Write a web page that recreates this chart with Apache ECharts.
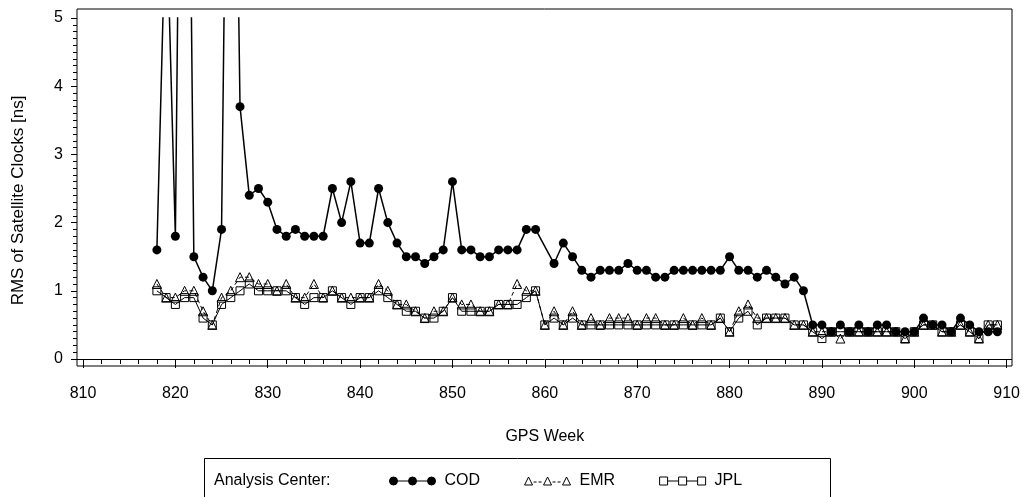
<!DOCTYPE html>
<html><head><meta charset="utf-8">
<script src="https://cdn.jsdelivr.net/npm/echarts@6/dist/echarts.min.js"></script>
<style>html,body{margin:0;padding:0;background:#fff}#c{width:1023px;height:497px}</style>
</head><body><div id="c"></div>
<script>
// ---- data ----
const weeks = [818,819,820,821,822,823,824,825,826,827,828,829,830,831,832,833,834,835,836,837,
  838,839,840,841,842,843,844,845,846,847,848,849,850,851,852,853,854,855,856,857,
  858,859,860,861,862,863,864,865,866,867,868,869,870,871,872,873,874,875,876,877,
  878,879,880,881,882,883,884,885,886,887,888,889,890,891,892,893,894,895,896,897,
  898,899,900,901,902,903,904,905,906,907,908,909];
const cod = [1.6,6.8,1.8,15,1.5,1.2,1.0,1.9,13.5,3.7,2.4,2.5,2.3,1.9,1.8,1.9,1.8,1.8,1.8,2.5,
  2.0,2.6,1.7,1.7,2.5,2.0,1.7,1.5,1.5,1.4,1.5,1.6,2.6,1.6,1.6,1.5,1.5,1.6,1.6,1.6,
  1.9,1.9,null,1.4,1.7,1.5,1.3,1.2,1.3,1.3,1.3,1.4,1.3,1.3,1.2,1.2,1.3,1.3,1.3,1.3,
  1.3,1.3,1.5,1.3,1.3,1.2,1.3,1.2,1.1,1.2,1.0,0.5,0.5,0.4,0.5,0.4,0.5,0.4,0.5,0.5,
  0.4,0.4,0.4,0.6,0.5,0.5,0.4,0.6,0.5,0.4,0.4,0.4];
const emr = [1.1,0.9,0.9,1.0,1.0,0.7,0.5,0.9,1.0,1.2,1.2,1.1,1.1,1.0,1.1,0.9,0.9,1.1,0.9,1.0,
  0.9,0.9,0.9,0.9,1.1,1.0,0.8,0.8,0.7,0.6,0.7,0.7,0.9,0.8,0.8,0.7,0.7,0.8,0.8,1.1,
  1.0,1.0,0.5,0.7,0.5,0.7,0.5,0.6,0.5,0.6,0.6,0.6,0.5,0.6,0.6,0.5,0.5,0.6,0.5,0.6,
  0.5,0.6,0.4,0.7,0.8,0.6,0.6,0.6,0.6,0.5,0.5,0.4,0.4,0.4,0.3,0.4,0.4,0.4,0.4,0.4,
  0.4,0.3,0.4,0.5,0.5,0.4,0.4,0.5,0.4,0.3,0.5,0.5];
const jpl = [1.0,0.9,0.8,0.9,0.9,0.6,0.5,0.8,0.9,1.0,1.1,1.0,1.0,1.0,1.0,0.9,0.8,0.9,0.9,1.0,
  0.9,0.8,0.9,0.9,1.0,0.9,0.8,0.7,0.7,0.6,0.6,0.7,0.9,0.7,0.7,0.7,0.7,0.8,0.8,0.8,
  0.9,1.0,0.5,0.6,0.5,0.6,0.5,0.5,0.5,0.5,0.5,0.5,0.5,0.5,0.5,0.5,0.5,0.5,0.5,0.5,
  0.5,0.6,0.4,0.6,0.7,0.5,0.6,0.6,0.6,0.5,0.5,0.4,0.3,0.4,0.4,0.4,0.4,0.4,0.4,0.4,
  0.4,0.3,0.4,0.5,0.5,0.4,0.4,0.5,0.4,0.3,0.5,0.5];
const seriesNames = ['COD', 'EMR', 'JPL'];
const xTitle = 'GPS Week';
const yTitle = 'RMS of Satellite Clocks [ns]';
const legendTitle = 'Analysis Center:';

// ---- chart ----
const FONT = "'Liberation Sans', Arial, Helvetica, sans-serif";
const pair = arr => weeks.map((w, i) => [w, arr[i]]);
const chart = echarts.init(document.getElementById('c'), null, {renderer: 'canvas'});
const hollow = {color: 'rgba(0,0,0,0)', borderColor: '#000', borderWidth: 1};
const pad = ' M50,4 L50,4';
const codIcon = 'path://M0,4 a4,4 0 1,0 8,0 a4,4 0 1,0 -8,0 M19,4 a4,4 0 1,0 8,0 a4,4 0 1,0 -8,0 M38,4 a4,4 0 1,0 8,0 a4,4 0 1,0 -8,0 M8,4 L19,4 M27,4 L38,4' + pad;
const emrIcon = 'path://M0,8 L4,0 L8,8 Z M19,8 L23,0 L27,8 Z M38,8 L42,0 L46,8 Z M9,5 L12,5 M14,5 L17,5 M28,5 L31,5 M33,5 L36,5' + pad;
const jplIcon = 'path://M0,0 L8,0 L8,8 L0,8 Z M19,0 L27,0 L27,8 L19,8 Z M38,0 L46,0 L46,8 L38,8 Z M8,4 L19,4 M27,4 L38,4' + pad;

chart.setOption({
  animation: false,
  backgroundColor: '#fff',
  textStyle: {fontFamily: FONT, color: '#000'},
  grid: [
    {left: 83, right: 14, top: 18, bottom: 138},
    {left: 77, right: 11, top: 9, bottom: 131, show: true, borderColor: '#000', borderWidth: 1, backgroundColor: 'rgba(0,0,0,0)'}
  ],
  xAxis: [
    {type: 'value', gridIndex: 0, min: 810, max: 910, interval: 10, offset: 7,
     axisLine: {show: false},
     axisTick: {show: true, length: 9, lineStyle: {color: '#000'}},
     minorTick: {show: true, splitNumber: 5, length: 5, lineStyle: {color: '#000'}},
     splitLine: {show: false},
     axisLabel: {margin: 20, fontSize: 16, color: '#000', fontFamily: FONT},
     name: xTitle, nameLocation: 'middle', nameGap: 63,
     nameTextStyle: {fontSize: 16, color: '#000', fontFamily: FONT}},
    {type: 'value', gridIndex: 1, min: 809.352, max: 910.324, show: false}
  ],
  yAxis: [
    {type: 'value', gridIndex: 0, min: 0, max: 5, interval: 1, offset: 6,
     axisLine: {show: false},
     axisTick: {show: true, length: 6, lineStyle: {color: '#000'}},
     minorTick: {show: true, splitNumber: 10, length: 4, lineStyle: {color: '#000'}},
     splitLine: {show: false},
     axisLabel: {margin: 14, fontSize: 16, color: '#000', fontFamily: FONT},
     name: yTitle, nameLocation: 'middle', nameGap: 50,
     nameTextStyle: {fontSize: 17, color: '#000', fontFamily: FONT, padding: [0, 24, 0, 0]}},
    {type: 'value', gridIndex: 1, min: -0.1026, max: 5.132, show: false}
  ],
  legend: {
    left: 389, top: 473, padding: 0, itemGap: 44, itemWidth: 50, itemHeight: 8,
    textStyle: {fontSize: 16, color: '#000', fontFamily: FONT},
    data: [
      {name: seriesNames[0], icon: codIcon, itemStyle: {color: '#000', borderColor: '#000', borderWidth: 1}},
      {name: seriesNames[1], icon: emrIcon, itemStyle: hollow},
      {name: seriesNames[2], icon: jplIcon, itemStyle: hollow}
    ]
  },
  graphic: [
    {type: 'rect', shape: {x: 204.5, y: 458.5, width: 626, height: 60},
     style: {fill: 'none', stroke: '#000', lineWidth: 1}, silent: true},
    {type: 'text', x: 214, y: 481, silent: true,
     style: {text: legendTitle, fontSize: 16, fontFamily: FONT, fill: '#000', verticalAlign: 'middle'}}
  ],
  series: [
    {type: 'line', xAxisIndex: 1, yAxisIndex: 1, data: [], silent: true,
     markLine: {silent: true, symbol: 'none', label: {show: false},
       lineStyle: {color: '#000', width: 1, type: 'solid'}, data: [{yAxis: 0}]}},
    {name: seriesNames[2], type: 'line', xAxisIndex: 0, yAxisIndex: 0, data: pair(jpl),
     symbol: 'rect', symbolSize: 8, itemStyle: hollow,
     lineStyle: {color: '#000', width: 1, type: 'solid'}, z: 2},
    {name: seriesNames[1], type: 'line', xAxisIndex: 0, yAxisIndex: 0, data: pair(emr),
     symbol: 'triangle', symbolSize: 9, itemStyle: hollow,
     lineStyle: {color: '#000', width: 1, type: [4, 3]}, z: 3},
    {name: seriesNames[0], type: 'line', xAxisIndex: 0, yAxisIndex: 0, data: pair(cod),
     symbol: 'circle', symbolSize: 9, connectNulls: true, clip: true,
     itemStyle: {color: '#000'}, lineStyle: {color: '#000', width: 1.5}, z: 4}
  ]
});
</script></body></html>
